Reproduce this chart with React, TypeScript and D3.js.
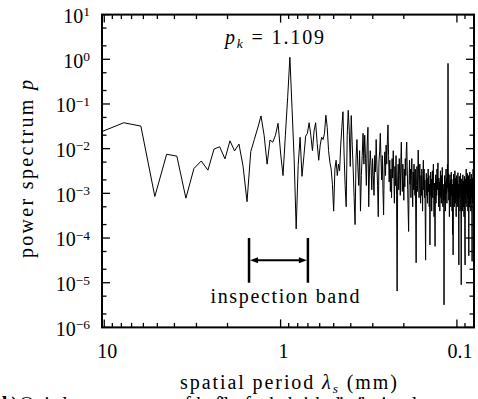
import React from 'react';
import * as d3 from 'd3';

const W = 478;
const H = 399;
const plot = { left: 102, right: 474, top: 14.6, bottom: 327.4 };

// spectrum sampled at harmonics k of a 31 mm record: period = 31 / k
const recordLength = 31;
const firstHarmonic = 3;
const power: number[] = [
  // k = 3 .. 45
  0.024, 0.038, 0.032, 0.00085, 0.0075, 0.0068, 0.00078, 0.0036, 0.0053, 0.0033,
  0.0098, 0.011, 0.0059, 0.015, 0.0089, 0.0127, 0.004, 0.00065, 0.0086, 0.016,
  0.029, 0.054, 0.02, 0.0045, 0.0156, 0.014, 0.02, 0.037, 0.008, 0.0025,
  0.02, 0.14, 1.109, 0.08, 0.006, 0.00016, 0.0042, 0.018, 0.0024, 0.0066,
  0.019, 0.022, 0.038,
  // k = 46 .. 100
  0.02, 0.009, 0.025, 0.038, 0.013, 0.0055, 0.012, 0.018, 0.016, 0.022,
  0.056, 0.03, 0.009, 0.005, 0.0035, 0.0016, 0.0004, 0.0035, 0.0055, 0.0025,
  0.0045, 0.0032, 0.012, 0.03, 0.067, 0.008, 0.0015, 0.0005, 0.02, 0.072,
  0.025, 0.004, 0.055, 0.012, 0.0035, 0.0008, 0.0002, 0.006, 0.016, 0.004,
  0.0015, 0.009, 0.0004, 0.0025, 0.007, 0.022, 0.0045, 0.02, 0.006, 0.0015,
  0.012, 0.03, 0.0005, 0.0035, 0.009,
  // k = 101 .. 150
  0.004, 0.0012, 0.006, 0.0025, 0.0009, 0.007, 0.003, 0.016, 0.0045, 0.0015,
  0.0003, 0.005, 0.0085, 0.022, 0.006, 0.002, 0.007, 0.0012, 0.00033, 0.004,
  0.0085, 0.0025, 0.012, 0.0045, 0.015, 0.034, 0.007, 0.0018, 0.0055, 0.0011,
  0.0035, 0.0008, 0.006, 0.0022, 0.009, 0.0028, 0.0006, 0.004, 0.0015, 0.007,
  0.0009, 0.0000065, 0.002, 0.0045, 0.0012, 0.006, 0.0025, 0.0009, 0.005, 0.014,
  // k = 151 .. 200
  0.003, 0.0011, 0.0045, 0.0018, 0.0007, 0.0035, 0.0014, 0.006, 0.0025, 0.009,
  0.014, 0.004, 0.0012, 0.0004, 0.00014, 0.002, 0.0055, 0.0016, 0.0035, 0.0008,
  0.0025, 0.006, 0.0018, 0.0005, 0.003, 0.0012, 0.0045, 0.0022, 0.0009, 0.0035,
  0.0004, 0.000028, 0.0015, 0.004, 0.0011, 0.0028, 0.0093, 0.003, 0.0008, 0.002,
  0.0045, 0.0013, 0.0006, 0.0025, 0.0009, 0.0035, 0.0015, 0.0004, 0.0022, 0.0055,
  // k = 201 .. 260
  0.0012, 0.0035, 0.0008, 0.002, 0.0003, 0.000032, 0.0015, 0.0028, 0.0009, 0.0022,
  0.0006, 0.0018, 0.0035, 0.0011, 0.0025, 0.0005, 0.0016, 0.00007, 0.0012, 0.003,
  0.0009, 0.0021, 0.0004, 0.0014, 0.0032, 0.0008, 0.0019, 0.0045, 0.0011, 0.0003,
  0.0017, 0.0007, 0.000065, 0.0013, 0.0026, 0.0006, 0.0021, 0.0009, 0.0035, 0.0012,
  0.0028, 0.0048, 0.0015, 0.0005, 0.0022, 0.0009, 0.0018, 0.0004, 0.0014, 0.0032,
  0.0008, 0.002, 0.0006, 0.0025, 0.0011, 0.0038, 0.0013, 0.0005, 0.0016, 0.0007,
  // k = 261 .. 330
  0.0012, 0.0000032, 0.0009, 0.0025, 0.0007, 0.0018, 0.0004, 0.0015, 0.0035, 0.001,
  0.0022, 0.0006, 0.0019, 0.0045, 0.0013, 0.81, 0.0011, 0.0028, 0.0007, 0.0017,
  0.0003, 0.0012, 0.0026, 0.0008, 0.002, 0.0005, 0.0014, 0.003, 0.0009, 0.0021,
  0.0004, 0.0016, 0.00012, 0.0011, 0.000042, 0.0013, 0.0027, 0.0007, 0.0018, 0.0005,
  0.0015, 0.0032, 0.0009, 0.0022, 0.0006, 0.0017, 0.0003, 0.0012, 0.0025, 0.0008,
  0.0019, 0.0005, 0.0013, 0.0029, 0.0007, 0.0016, 0.00025, 0.000025, 0.0011, 0.0024,
  0.0008, 0.0018, 0.0004, 0.0013, 0.0028, 0.0009, 0.0002, 0.000009, 0.001, 0.0021,
  // k = 331 .. 387
  0.0007, 0.0016, 0.0004, 0.0012, 0.0026, 0.0008, 0.0019, 0.0005, 0.0014, 0.0003,
  0.0011, 0.0024, 0.0007, 0.00006, 0.000025, 0.0009, 0.0021, 0.0006, 0.0015, 0.0035,
  0.001, 0.0023, 0.0005, 0.0013, 0.0028, 0.0008, 0.0018, 0.0004, 0.0011, 0.0025,
  0.0007, 0.00004, 0.0009, 0.0019, 0.0005, 0.0014, 0.003, 0.0009, 0.0021, 0.0006,
  0.0016, 0.0004, 0.0012, 0.0027, 0.0008, 0.0017, 0.0003, 0.00003, 0.001, 0.0022,
  0.0006, 0.0015, 0.0035, 0.0009, 0.0018, 0.0005, 0.0012,
];

const xDomain = [10.3, 0.08];
const yDomain = [1e-6, 10];
const xTickValues = [10, 1, 0.1];
const xTickLabels = ['10', '1', '0.1'];
const yExponents = [1, 0, -1, -2, -3, -4, -5, -6];
const peakValueLabel = '1.109';
const bandEdges = [1.51, 0.7];
const bandLevels = [1e-4, 1e-5];
const captionLabel = 'b)';
const captionText = 'Optical power spectrum of the film for the height distribution along';

const serif = { fontFamily: '"Liberation Serif"' };

export default function App() {
  const x = d3.scaleLog().domain(xDomain).range([plot.left, plot.right]);
  const y = d3.scaleLog().domain(yDomain).range([plot.bottom, plot.top]);

  const points = power.map((p, i) => ({ period: recordLength / (firstHarmonic + i), p }));
  const line = d3
    .line<{ period: number; p: number }>()
    .x((d) => x(d.period))
    .y((d) => y(d.p));

  const xMinor: number[] = [];
  for (let e = -2; e <= 1; e++) {
    for (let m = 2; m <= 9; m++) {
      const v = m * Math.pow(10, e);
      if (v > 0.0805 && v < 10.3) xMinor.push(v);
    }
  }
  const yMinor: number[] = [];
  for (let e = -6; e <= 0; e++) {
    [2, 5].forEach((m) => yMinor.push(m * Math.pow(10, e)));
  }

  const majLen = 8;
  const minLen = 4.5;
  const tickW = 1.3;

  const bx0 = x(bandEdges[0]);
  const bx1 = x(bandEdges[1]);
  const by0 = y(bandLevels[0]);
  const by1 = y(bandLevels[1]);
  const byMid = y(Math.sqrt(bandLevels[0] * bandLevels[1]));
  const ah = 8;
  const aw = 3;

  return (
    <svg width={W} height={H} style={{ position: 'absolute', left: 0, top: 0, background: '#fff' }}>
      <defs>
        <clipPath id="plotclip">
          <rect x={plot.left} y={plot.top} width={plot.right - plot.left} height={plot.bottom - plot.top} />
        </clipPath>
      </defs>
      <rect width={W} height={H} fill="#fff" />

      {/* spectrum */}
      <path d={line(points) || ''} fill="none" stroke="#000" strokeWidth={1} clipPath="url(#plotclip)" />

      {/* x ticks (top and bottom, inward) */}
      {xTickValues.map((v) => (
        <g key={'xM' + v} stroke="#000" strokeWidth={tickW}>
          <line x1={x(v)} x2={x(v)} y1={plot.bottom} y2={plot.bottom - majLen} />
          <line x1={x(v)} x2={x(v)} y1={plot.top} y2={plot.top + majLen} />
        </g>
      ))}
      {xMinor.map((v) => (
        <g key={'xm' + v} stroke="#000" strokeWidth={tickW}>
          <line x1={x(v)} x2={x(v)} y1={plot.bottom} y2={plot.bottom - minLen} />
          <line x1={x(v)} x2={x(v)} y1={plot.top} y2={plot.top + minLen} />
        </g>
      ))}
      {/* y ticks (left and right, inward) */}
      {yExponents.map((e) => {
        const yy = y(Math.pow(10, e));
        return (
          <g key={'yM' + e} stroke="#000" strokeWidth={tickW}>
            <line x1={plot.left} x2={plot.left + majLen} y1={yy} y2={yy} />
            <line x1={plot.right} x2={plot.right - majLen} y1={yy} y2={yy} />
          </g>
        );
      })}
      {yMinor.map((v) => {
        const yy = y(v);
        return (
          <g key={'ym' + v} stroke="#000" strokeWidth={tickW}>
            <line x1={plot.left} x2={plot.left + minLen} y1={yy} y2={yy} />
            <line x1={plot.right} x2={plot.right - minLen} y1={yy} y2={yy} />
          </g>
        );
      })}

      {/* frame */}
      <rect
        x={plot.left}
        y={plot.top}
        width={plot.right - plot.left}
        height={plot.bottom - plot.top}
        fill="none"
        stroke="#000"
        strokeWidth={2}
      />

      {/* y tick labels */}
      {yExponents.map((e) => {
        const yy = y(Math.pow(10, e));
        return (
          <text key={'yl' + e} x={90} y={yy + 8.3} textAnchor="end" fontSize={20} fill="#000" style={serif}>
            <tspan>10</tspan>
            <tspan dy={-6.5} fontSize={13.5}>
              {e < 0 ? '\u2212' + Math.abs(e) : String(e)}
            </tspan>
          </text>
        );
      })}

      {/* x tick labels */}
      {xTickValues.map((v, i) => (
        <text key={'xl' + v} x={x(v) + 3} y={358} textAnchor="middle" fontSize={20} fill="#000" style={serif}>
          {xTickLabels[i]}
        </text>
      ))}

      {/* axis titles */}
      <text
        transform="translate(33,169) rotate(-90)"
        textAnchor="middle"
        fontSize={20}
        fill="#000"
        textLength={178}
        lengthAdjust="spacing"
        style={serif}
      >
        power spectrum <tspan fontStyle="italic">p</tspan>
      </text>
      <text x={180} y={389} fontSize={20} fill="#000" textLength={217} lengthAdjust="spacing" style={serif}>
        spatial period <tspan fontStyle="italic">λ</tspan>
        <tspan fontStyle="italic" fontSize={13.5} dy={4}>s</tspan>
        <tspan dy={-4}> (mm)</tspan>
      </text>

      {/* peak annotation */}
      <text x={225} y={43.5} fontSize={20} fill="#000" textLength={99} lengthAdjust="spacing" style={serif}>
        <tspan fontStyle="italic">p</tspan>
        <tspan fontStyle="italic" fontSize={13.5} dy={4}>k</tspan>
        <tspan dy={-4}> = {peakValueLabel}</tspan>
      </text>

      {/* inspection band */}
      <g stroke="#000">
        <line x1={bx0} x2={bx0} y1={by0} y2={by1} strokeWidth={2.5} />
        <line x1={bx1} x2={bx1} y1={by0} y2={by1} strokeWidth={2.5} />
        <line x1={bx0 + ah} x2={bx1 - ah} y1={byMid} y2={byMid} strokeWidth={2} />
      </g>
      <path
        d={`M${bx0 + 1},${byMid} L${bx0 + 1 + ah},${byMid - aw} L${bx0 + 1 + ah},${byMid + aw} Z`}
        fill="#000"
      />
      <path
        d={`M${bx1 - 1},${byMid} L${bx1 - 1 - ah},${byMid - aw} L${bx1 - 1 - ah},${byMid + aw} Z`}
        fill="#000"
      />
      <text x={210.5} y={303} fontSize={20} fill="#000" textLength={149} lengthAdjust="spacing" style={serif}>
        inspection band
      </text>

      {/* caption (cut by the page edge, as in the reference) */}
      <text x={2} y={411} fontSize={20} fill="#000" textLength={440} lengthAdjust="spacing" style={serif}>
        <tspan fontWeight="bold">{captionLabel}</tspan> {captionText}
      </text>
    </svg>
  );
}
